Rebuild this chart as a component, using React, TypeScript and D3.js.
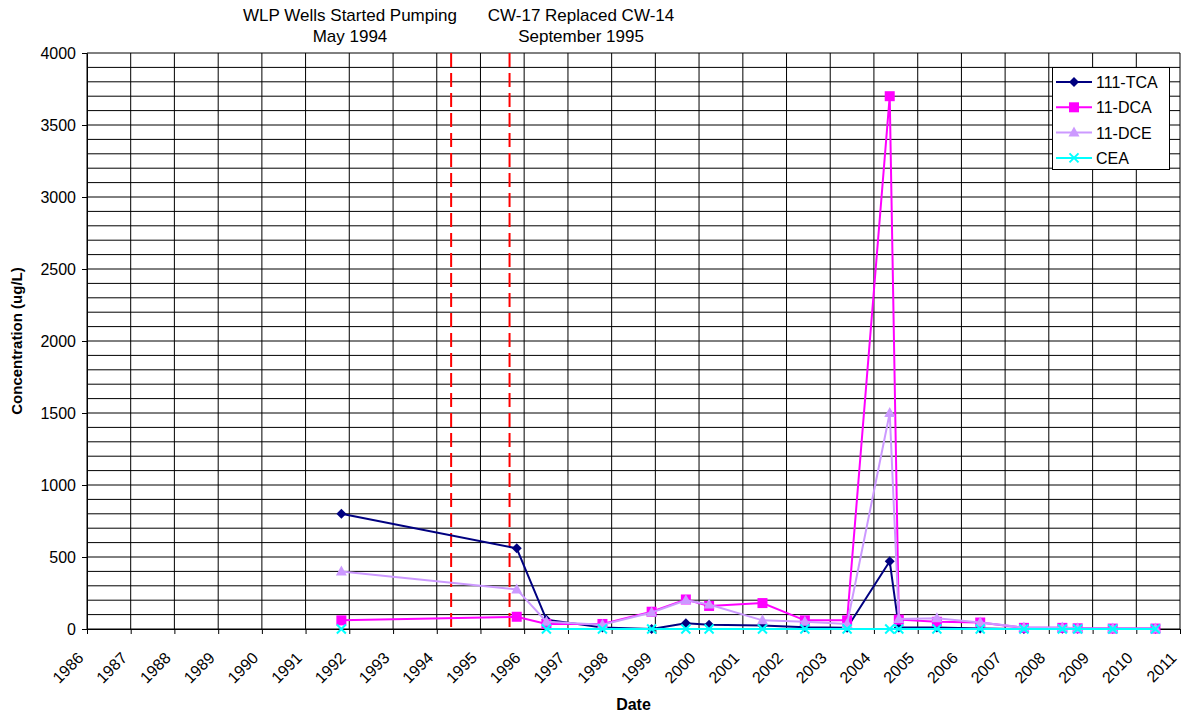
import React, { useEffect, useRef } from 'react';
import * as d3 from 'd3';

// sample dates and concentrations (ug/L)
const sampleDates = [
  '1991-10-27', '1995-10-31', '1996-07-05', '1997-10-16', '1998-12-01',
  '1999-09-13', '2000-03-25', '2001-06-14', '2002-06-03', '2003-05-22',
  '2004-05-12', '2004-07-27', '2005-06-10', '2006-06-07', '2007-06-07',
  '2008-04-23', '2008-08-29', '2009-06-18', '2010-06-10',
];
const tca111 = [800, 560, 65, 10, 0, 40, 30, 25, 12, 8, 470, 10, 10, 3, 0, 2, 2, 2, 2];
const dca11 = [60, 85, 35, 35, 120, 205, 160, 180, 60, 60, 3700, 65, 50, 45, 8, 8, 5, 3, 3];
const dce11 = [400, 275, 50, 30, 115, 200, 170, 60, 50, 35, 1500, 70, 75, 45, 10, 10, 5, 3, 3];
const cea: (number | null)[] = [0, null, 0, 0, 0, 0, 0, 0, 0, 0, 0, 0, 0, 0, 0, 0, 0, 0, 0];

const seriesNames = ['111-TCA', '11-DCA', '11-DCE', 'CEA'];
const seriesColors = ['#000080', '#FF00FF', '#CC99FF', '#00FFFF'];
const seriesMarkers = ['diamond', 'square', 'triangle', 'x'];

const yearTicks = d3.range(1986, 2012);
const events = [
  { date: '1994-05-01', lines: ['WLP Wells Started Pumping', 'May 1994'], labelX: 350 },
  { date: '1995-09-01', lines: ['CW-17 Replaced CW-14', 'September 1995'], labelX: 581 },
];

const W = 1182;
const H = 717;

const App: React.FC = () => {
  const svgRef = useRef<SVGSVGElement | null>(null);

  useEffect(() => {
    if (!svgRef.current) return;
    const svg = d3.select(svgRef.current);
    svg.selectAll('*').remove();

    const margin = { top: 53, right: 2, bottom: 88, left: 87 };
    const font = 'Liberation Sans, Arial, sans-serif';

    const x = d3.scaleTime()
      .domain([new Date(1986, 0, 1), new Date(2011, 0, 1)])
      .range([margin.left, W - margin.right]);
    const y = d3.scaleLinear()
      .domain([0, 4000])
      .range([H - margin.bottom, margin.top]);

    // gridlines
    const grid = svg.append('g').attr('stroke', '#000').attr('stroke-width', 1);
    d3.range(0, 4001, 100).forEach(v => {
      grid.append('line')
        .attr('x1', x.range()[0]).attr('x2', x.range()[1])
        .attr('y1', y(v)).attr('y2', y(v));
    });
    yearTicks.forEach(yr => {
      const px = x(new Date(yr, 0, 1));
      grid.append('line')
        .attr('x1', px).attr('x2', px)
        .attr('y1', y(0)).attr('y2', y(4000));
    });

    // y axis
    const yAxis = svg.append('g')
      .attr('transform', `translate(${margin.left},0)`)
      .call(d3.axisLeft(y)
        .tickValues(d3.range(0, 4001, 500))
        .tickFormat(d3.format('d') as any)
        .tickSize(5).tickPadding(6).tickSizeOuter(0));
    yAxis.selectAll('text').attr('font-family', font).attr('font-size', 16).attr('fill', '#000');
    yAxis.selectAll('line, path').attr('stroke', '#000');

    // x axis
    const xAxis = svg.append('g')
      .attr('transform', `translate(0,${y(0)})`)
      .call(d3.axisBottom(x)
        .tickValues(yearTicks.map(yr => new Date(yr, 0, 1)))
        .tickFormat(d3.timeFormat('%Y') as any)
        .tickSize(5)
        .tickSizeOuter(0));
    xAxis.selectAll('line, path').attr('stroke', '#000');
    xAxis.selectAll('text')
      .attr('font-family', font).attr('font-size', 16).attr('fill', '#000')
      .attr('text-anchor', 'end')
      .attr('dy', null)
      .attr('y', 0)
      .attr('transform', 'translate(-3,30) rotate(-45)');

    // axis titles
    svg.append('text')
      .attr('x', (x.range()[0] + x.range()[1]) / 2)
      .attr('y', 710)
      .attr('text-anchor', 'middle')
      .attr('font-family', font).attr('font-size', 16).attr('font-weight', 'bold')
      .text('Date');
    svg.append('text')
      .attr('transform', `translate(22,${(y(0) + y(4000)) / 2}) rotate(-90)`)
      .attr('text-anchor', 'middle')
      .attr('font-family', font).attr('font-size', 15).attr('font-weight', 'bold')
      .text('Concentration (ug/L)');

    // event lines and notes
    events.forEach(ev => {
      const px = x(new Date(ev.date));
      svg.append('line')
        .attr('x1', px).attr('x2', px)
        .attr('y1', y(4000)).attr('y2', y(0))
        .attr('stroke', '#FF0000').attr('stroke-width', 2)
        .attr('stroke-dasharray', '14,6');
      ev.lines.forEach((t, i) => {
        svg.append('text')
          .attr('x', ev.labelX).attr('y', 21 + i * 21)
          .attr('text-anchor', 'middle')
          .attr('font-family', font).attr('font-size', 17)
          .text(t);
      });
    });

    // series
    const dates = sampleDates.map(d => new Date(d));
    const allSeries = [tca111, dca11, dce11, cea];

    const drawMarker = (g: any, kind: string, cx: number, cy: number, color: string) => {
      if (kind === 'diamond') {
        g.append('path')
          .attr('d', `M${cx},${cy - 5}L${cx + 5},${cy}L${cx},${cy + 5}L${cx - 5},${cy}Z`)
          .attr('fill', color);
      } else if (kind === 'square') {
        g.append('rect').attr('x', cx - 5).attr('y', cy - 5).attr('width', 10).attr('height', 10).attr('fill', color);
      } else if (kind === 'triangle') {
        g.append('path')
          .attr('d', `M${cx},${cy - 6}L${cx + 5.5},${cy + 4}L${cx - 5.5},${cy + 4}Z`)
          .attr('fill', color);
      } else {
        g.append('path').attr('d', `M${cx - 4.5},${cy - 4.5}L${cx + 4.5},${cy + 4.5}M${cx - 4.5},${cy + 4.5}L${cx + 4.5},${cy - 4.5}`)
          .attr('stroke', color).attr('stroke-width', 2).attr('fill', 'none');
      }
    };

    allSeries.forEach((vals, si) => {
      const pts = dates.map((d, i) => ({ d, v: vals[i] }));
      const line = d3.line<{ d: Date; v: number | null }>()
        .defined(p => p.v !== null)
        .x(p => x(p.d))
        .y(p => y(p.v as number));
      const g = svg.append('g');
      g.append('path')
        .datum(pts)
        .attr('fill', 'none')
        .attr('stroke', seriesColors[si])
        .attr('stroke-width', 2)
        .attr('d', line);
      pts.filter(p => p.v !== null).forEach(p => {
        drawMarker(g, seriesMarkers[si], x(p.d), y(p.v as number), seriesColors[si]);
      });
    });

    // legend
    const lg = svg.append('g');
    lg.append('rect')
      .attr('x', 1052.5).attr('y', 67.5).attr('width', 117).attr('height', 102)
      .attr('fill', '#fff').attr('stroke', '#000').attr('stroke-width', 1);
    seriesNames.forEach((name, i) => {
      const ly = 82 + i * 25.3;
      lg.append('line')
        .attr('x1', 1056).attr('x2', 1092).attr('y1', ly).attr('y2', ly)
        .attr('stroke', seriesColors[i]).attr('stroke-width', 2);
      drawMarker(lg, seriesMarkers[i], 1074, ly, seriesColors[i]);
      lg.append('text')
        .attr('x', 1096).attr('y', ly + 6)
        .attr('font-family', font).attr('font-size', 16)
        .text(name);
    });
  }, []);

  return (
    <div style={{ position: 'absolute', left: 0, top: 0 }}>
      <svg ref={svgRef} width={W} height={H} style={{ display: 'block', background: '#fff' }} />
    </div>
  );
};

export default App;
